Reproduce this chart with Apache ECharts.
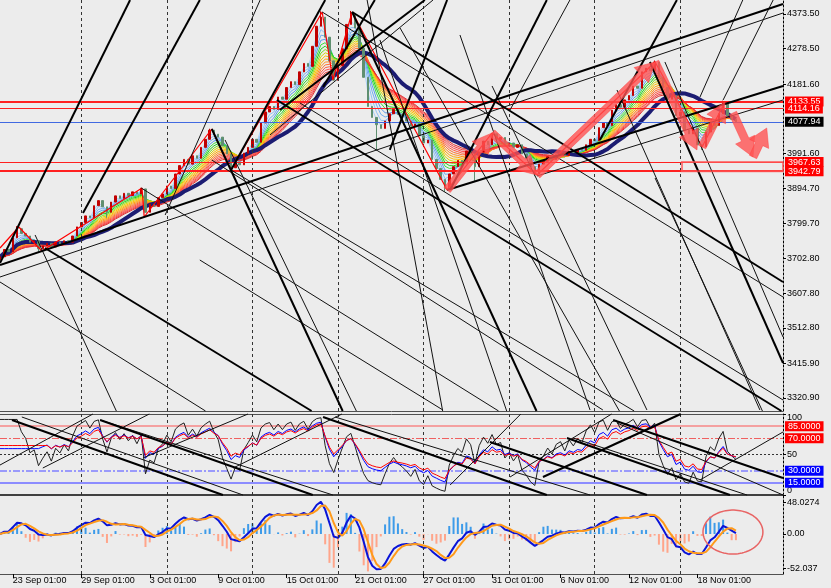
<!DOCTYPE html>
<html><head><meta charset="utf-8">
<script src="https://cdn.jsdelivr.net/npm/echarts@6/dist/echarts.min.js"></script>
<style>html,body{margin:0;padding:0;background:#ececec}#c{width:831px;height:588px}</style>
</head><body><div id="c"></div>
<script>
// ---------- DATA ----------
const priceTicks = [4373.50,4278.50,4181.60,3991.60,3894.70,3799.70,3702.80,3607.80,3512.80,3415.90,3320.90];
const dateTickBars = [3,19,35,51,67,83,99,115,131,147,163];
const dateTickLabels = ['23 Sep 01:00','29 Sep 01:00','3 Oct 01:00','9 Oct 01:00','15 Oct 01:00','21 Oct 01:00','27 Oct 01:00','31 Oct 01:00','6 Nov 01:00','12 Nov 01:00','18 Nov 01:00'];
const gridBars = [19,39,59,79,99,119,139,159];
const firstOpen = 3700;
const closes = [
3708,3728,3722,3760,3785,3772,3765,3748,3752,3730,
3738,3745,3735,3748,3744,3752,3748,3765,3790,3802,
3820,3815,3848,3862,3845,3830,3858,3875,3868,3882,
3876,3886,3880,3894,3830,3852,3846,3870,3880,3902,
3895,3935,3958,3975,3962,3985,3978,4008,4030,4055,
4044,4036,4012,3990,3952,3968,3960,3992,4008,4030,
4022,4075,4105,4120,4112,4146,4140,4172,4188,4180,
4215,4238,4230,4285,4340,4365,4310,4245,4192,4232,
4278,4345,4372,4335,4280,4200,4120,4090,4070,4060,
4080,4100,4112,4098,4090,4080,4066,4072,4040,4020,
4028,3975,3950,3920,3895,3935,3955,3972,3965,3998,
3990,3955,3995,4025,4015,4045,4030,4035,4012,4020,
4008,4015,3990,3978,3955,3935,3962,3970,3982,3975,
3988,3992,3985,3998,3994,4002,4000,4015,4030,4026,
4062,4075,4068,4110,4125,4118,4138,4150,4176,4170,
4215,4225,4218,4242,4200,4172,4140,4150,4095,4105,
4055,4045,4060,4015,4010,4050,4075,4068,4100,4130,
4095,4085,4078];
const highWicks = {4:3792, 33:3897, 49:4059, 75:4381, 82:4382, 153:4246, 169:4136};
const lowWicks = {9:3722, 25:3815, 54:3943, 88:4000, 104:3886, 111:3916, 125:3929, 164:4001};

const redLevels = [4133.55, 4114.16, 3967.63, 3942.79];
const redLevelWidths = [2, 1, 1, 2];
const blueLevel = 4077.94;

const zigzag = [[0,3732.1],[4.4,3789.7],[9.8,3723.9],[33.2,3896.6],[33.7,3817.1],[49.5,4058.3],[54.0,3945.9],[75.3,4379.0],[77.8,4192.6],[82.3,4379.0],[104.5,3891.1],[115.0,4047.3],[125.5,3932.2],[153.1,4242.0],[164.1,4009.0],[169.4,4132.3]];
const arrows = [
 [104.5,3891.1,115.0,4047.3],
 [115.0,4047.3,125.5,3932.2],
 [125.5,3932.2,153.1,4242.0],
 [153.1,4242.0,162.9,4000.8],
 [164.1,4009.0,169.4,4132.3],
 [171.3,4102.2,176.0,3981.6],
 [176.0,3981.6,179.2,4061.0]];
const zoneBox = [[159.4,3967.63,183,3942.79]];

const thickLines = [
 [0,3685.5,183,4400.9],[104.5,3891.1,183,4176.2],[0,3691.0,30.4,4411.9],[19.4,3828.1,46.7,4411.9],
 [54.0,3945.9,76.0,4411.9],[75.5,4173.4,87.6,4411.9],[65.4,4110.4,99.3,4411.9],[82.3,4379.0,125.5,3282.6],
 [82.3,4379.0,183,3638.9],[64.7,4137.8,183,3282.6],[10.5,3732.1,73.2,3282.6],[49.5,4058.3,80.2,3282.6],
 [151.9,4242.0,183,3416.9],[91.1,4000.8,104.5,4411.9],[105.2,3891.1,127.8,4411.9],[140.2,4028.2,158.2,4411.9]];
const thinLines = [
 [0,3652.6,183,4376.3],[125.5,3929.5,183,4137.8],[38.6,3822.6,60.8,4411.9],[33.0,3896.6,116.9,3282.6],
 [0,3638.9,48.4,3282.6],[8.2,3767.8,27.3,3282.6],[52.6,4028.2,83.4,3282.6],[54.0,3945.9,183,3041.4],
 [75.3,4379.0,183,3597.8],[70.1,4129.6,183,3315.5],[155.4,4242.0,183,3488.2],[63.1,4041.9,101.2,4411.9],
 [93.5,4335.2,144.9,3282.6],[107.5,4316.0,137.9,3288.1],[115.0,4176.2,151.2,3288.1],[144.2,4165.2,177.6,3288.1],
 [153.1,3924.0,178.3,3282.6],[85.8,4411.9,103.5,3282.6],[88.8,4302.3,118.5,3282.6],[49.5,3973.3,140.9,3288.1],
 [46.7,3699.2,103.5,3288.1],[119.2,4110.4,133.2,4411.9],[163.6,4146.0,173.6,4411.9],[169.0,4137.8,180.7,4411.9]];

const rsiThick = [[2.8,92.6,52.1,0],[23.4,92.6,73.1,0],[75.5,96.3,127.8,0],[114.5,65.4,151.2,0],[132.5,70.4,170.6,0],[126.9,22.2,159.6,101.2],[143.3,92.6,183,21.0]];
const rsiThin = [[5.1,96.3,56.8,0],[0,37.0,23.4,104.9],[10.0,33.3,39.0,111],[23.4,92.6,77.8,0],[33.4,45.7,59.1,102.5],[54.5,33.3,84.1,111],[105.2,12.3,122.2,102.5],[133.9,70.4,174.6,0],[119.2,22.2,143.3,101.2],[163.6,18.5,183,77.8],[144.2,88.9,183,0],[78.3,96.3,137.9,0]];
const rsiTicks = [0,50,100];
const macdTicks = [48.0274, 0, -52.037];
const macdTickLabels = ['48.0274','0.00','-52.037'];
const ellipseMark = [[171.3, 3, 7.0, 33.3]];

// indicator settings
const ribbonPeriods = [2,3,4,5,6,7,8,9,10,11,12,13,14,15,16,17];
const ribbonColors = ['#a8d0f8','#8cc0f4','#70aef0','#5a9ce8','#40e040','#20d020','#7fdc20','#d8d800','#ffc000','#ffa500','#ff9020','#ff7030','#ff5a3c','#ff4848','#f03c3c','#e03030'];
const navyPeriod = 18;
const rsiPeriods = {black:4, blue:9, red:11};
const macdSet = {fast:4, slow:8, signal:3, histGain:2.5};

// ---------- HELPERS ----------
function ema(arr,n){const k=2/(n+1);let p=arr[0];return arr.map((v,i)=>{p=i===0?v:v*k+p*(1-k);return p;});}
function smaP(arr,n){return arr.map((_,i)=>{const s=Math.max(0,i-n+1);let t=0;for(let j=s;j<=i;j++)t+=arr[j];return t/(i-s+1);});}
function rsi(arr,n){let ag=0,al=0;for(let i=1;i<=n;i++){const d=arr[i]-arr[i-1];ag+=Math.max(d,0)/n;al+=Math.max(-d,0)/n;}
 const seed=al===0?100:100-100/(1+ag/al);
 return arr.map((v,i)=>{if(i<=n)return seed;const d=v-arr[i-1];ag=(ag*(n-1)+Math.max(d,0))/n;al=(al*(n-1)+Math.max(-d,0))/n;return al===0?100:100-100/(1+ag/al);});}
function clipSeg(x1,y1,x2,y2,r){let t0=0,t1=1;const dx=x2-x1,dy=y2-y1;const p=[-dx,dx,-dy,dy],q=[x1-r.x,r.x+r.width-x1,y1-r.y,r.y+r.height-y1];
 for(let k=0;k<4;k++){if(p[k]===0){if(q[k]<0)return null;}else{const t=q[k]/p[k];if(p[k]<0){if(t>t1)return null;if(t>t0)t0=t;}else{if(t<t0)return null;if(t<t1)t1=t;}}}
 return [x1+t0*dx,y1+t0*dy,x1+t1*dx,y1+t1*dy];}
function segRenderer(width,color){return function(params,api){const a=api.coord([api.value(0),api.value(1)]),b=api.coord([api.value(2),api.value(3)]);const s=clipSeg(a[0],a[1],b[0],b[1],params.coordSys);if(!s)return;return {type:'line',shape:{x1:s[0],y1:s[1],x2:s[2],y2:s[3]},style:{stroke:color,lineWidth:width}};};}
function arrowRenderer(params,api){const a=api.coord([api.value(0),api.value(1)]),b=api.coord([api.value(2),api.value(3)]);
 const dx=b[0]-a[0],dy=b[1]-a[1],L=Math.hypot(dx,dy),ux=dx/L,uy=dy/L,nx=-uy,ny=ux;const h=Math.min(19,L*0.55),sw=4,hw=10.5;
 const bx=b[0]-ux*h,by=b[1]-uy*h;
 const pts=[[a[0]+nx*sw,a[1]+ny*sw],[bx+nx*sw,by+ny*sw],[bx+nx*hw,by+ny*hw],[b[0],b[1]],[bx-nx*hw,by-ny*hw],[bx-nx*sw,by-ny*sw],[a[0]-nx*sw,a[1]-ny*sw]];
 return {type:'polygon',shape:{points:pts},style:{fill:'rgba(255,82,82,0.8)',stroke:'rgba(255,60,60,0.9)',lineWidth:0.5}};}
function boxRenderer(params,api){const a=api.coord([api.value(0),api.value(1)]),b=api.coord([api.value(2),api.value(3)]);
 return {type:'rect',shape:{x:a[0],y:a[1],width:b[0]-a[0],height:b[1]-a[1]},style:{fill:'none',stroke:'rgba(255,90,90,0.75)',lineWidth:2}};}
function ellipseRenderer(params,api){const c=api.coord([api.value(0),api.value(1)]);const ex=api.coord([api.value(0)+api.value(2),api.value(1)]);const ey=api.coord([api.value(0),api.value(1)+api.value(3)]);
 const rx=Math.abs(ex[0]-c[0]),ry=Math.abs(ey[1]-c[1]);const pts=[];for(let k=0;k<90;k++){const t=k/90*2*Math.PI;pts.push([c[0]+rx*Math.cos(t),c[1]+ry*Math.sin(t)]);}
 return {type:'polygon',shape:{points:pts},style:{fill:'none',stroke:'#e86464',lineWidth:1.5}};}

// ---------- BUILD ----------
const candleData = closes.map((c,i)=>{const o=i===0?firstOpen:closes[i-1];let h=Math.max(o,c),l=Math.min(o,c);
 if(highWicks[i]!==undefined)h=Math.max(h,highWicks[i]);if(lowWicks[i]!==undefined)l=Math.min(l,lowWicks[i]);return [i,o,c,l,h];});
const FONT = 'Liberation Sans';
const series = [];
ribbonPeriods.forEach((p,k)=>{series.push({type:'line',xAxisIndex:0,yAxisIndex:0,symbol:'none',silent:true,z:2,
 lineStyle:{width:1,color:ribbonColors[k]},data:ema(closes,p).map((v,i)=>[i,v])});});
series.push({type:'line',xAxisIndex:0,yAxisIndex:0,symbol:'none',silent:true,z:3,lineStyle:{width:4,color:'#1c1c72'},
 data:smaP(closes,navyPeriod).map((v,i)=>[i,v])});

const vGrid = gridBars.map(v=>({xAxis:v,lineStyle:{type:[3,3],color:'#333',width:1}}));
const lvlLabel = (bg,txt)=>({show:true,position:'end',distance:2,color:'#fff',backgroundColor:bg,padding:[1,3,0,3],fontSize:9,fontFamily:FONT,lineHeight:9,formatter:txt||((p)=>p.value.toFixed(2))});
const priceMarks = vGrid.concat(
 redLevels.map((v,k)=>({yAxis:v,lineStyle:{type:'solid',color:'#ff2020',width:redLevelWidths[k]},label:lvlLabel('#ff0000')})),
 [{yAxis:blueLevel,lineStyle:{type:'solid',color:'#4169e1',width:1},label:lvlLabel('#000')}]);

series.push({type:'candlestick',xAxisIndex:0,yAxisIndex:0,z:4,barWidth:2,encode:{x:0,y:[1,2,3,4]},data:candleData,
 itemStyle:{color:'#c00000',color0:'#5f8f70',borderColor:'#c00000',borderColor0:'#5f8f70',borderWidth:1},
 markLine:{symbol:['none','none'],silent:true,animation:false,label:{show:false},data:priceMarks}});
series.push({type:'line',xAxisIndex:0,yAxisIndex:0,symbol:'none',silent:true,z:5,lineStyle:{width:1.2,color:'#ff0000'},data:zigzag});
series.push({type:'custom',xAxisIndex:0,yAxisIndex:0,z:6,silent:true,encode:{x:[0,2],y:[1,3]},data:thinLines,renderItem:segRenderer(1,'#111')});
series.push({type:'custom',xAxisIndex:0,yAxisIndex:0,z:6,silent:true,encode:{x:[0,2],y:[1,3]},data:thickLines,renderItem:segRenderer(2,'#000')});
series.push({type:'custom',xAxisIndex:0,yAxisIndex:0,z:7,silent:true,encode:{x:[0,2],y:[1,3]},data:zoneBox,renderItem:boxRenderer});
series.push({type:'custom',xAxisIndex:0,yAxisIndex:0,z:8,silent:true,encode:{x:[0,2],y:[1,3]},data:arrows,renderItem:arrowRenderer});

// RSI panel
const rsiLvl = [
 {yAxis:85,lineStyle:{type:'solid',color:'#f4a0a0',width:2},label:lvlLabel('#ff0000','85.0000')},
 {yAxis:70,lineStyle:{type:[7,2,2,2],color:'#f06060',width:1},label:lvlLabel('#ff0000','70.0000')},
 {yAxis:50,lineStyle:{type:[2,2],color:'#333',width:1},label:{show:false}},
 {yAxis:30,lineStyle:{type:[7,2,2,2],color:'#7f7fff',width:1.5},label:lvlLabel('#0000ff','30.0000')},
 {yAxis:15,lineStyle:{type:'solid',color:'#8c8cff',width:2},label:lvlLabel('#0000ff','15.0000')}];
series.push({type:'line',xAxisIndex:1,yAxisIndex:1,symbol:'none',silent:true,z:5,lineStyle:{width:1,color:'#202020'},data:rsi(closes,rsiPeriods.black).map((v,i)=>[i,v]),
 markLine:{symbol:['none','none'],silent:true,animation:false,label:{show:false},data:vGrid.concat(rsiLvl)}});
series.push({type:'line',xAxisIndex:1,yAxisIndex:1,symbol:'none',silent:true,z:5,lineStyle:{width:1,color:'#0000ff'},data:rsi(closes,rsiPeriods.blue).map((v,i)=>[i,v])});
series.push({type:'line',xAxisIndex:1,yAxisIndex:1,symbol:'none',silent:true,z:5,lineStyle:{width:1,color:'#ff0000'},data:rsi(closes,rsiPeriods.red).map((v,i)=>[i,v])});
series.push({type:'custom',xAxisIndex:1,yAxisIndex:1,z:6,silent:true,encode:{x:[0,2],y:[1,3]},data:rsiThin,renderItem:segRenderer(1,'#111')});
series.push({type:'custom',xAxisIndex:1,yAxisIndex:1,z:6,silent:true,encode:{x:[0,2],y:[1,3]},data:rsiThick,renderItem:segRenderer(2,'#000')});

// MACD panel
const emaF = ema(closes,macdSet.fast), emaS = ema(closes,macdSet.slow);
const macd = emaF.map((v,i)=>v-emaS[i]);
const signal = smaP(macd,macdSet.signal);
const hist = macd.map((v,i)=>(v-signal[i])*macdSet.histGain);
series.push({type:'bar',xAxisIndex:2,yAxisIndex:2,barWidth:2,silent:true,z:3,
 data:hist.map((v,i)=>({value:[i,v],itemStyle:{color:v>=0?'#3d9be9':'#ffa58a'}})),
 markLine:{symbol:['none','none'],silent:true,animation:false,label:{show:false},data:vGrid}});
series.push({type:'line',xAxisIndex:2,yAxisIndex:2,symbol:'none',silent:true,z:4,lineStyle:{width:2,color:'#0a14d8'},data:macd.map((v,i)=>[i,v])});
series.push({type:'line',xAxisIndex:2,yAxisIndex:2,symbol:'none',silent:true,z:5,lineStyle:{width:2,color:'#ff9a1a'},data:signal.map((v,i)=>[i,v])});
series.push({type:'custom',xAxisIndex:2,yAxisIndex:2,z:7,silent:true,encode:{x:0,y:1},data:ellipseMark,renderItem:ellipseRenderer});

const baseX = (g)=>({type:'value',gridIndex:g,min:0,max:183,axisLabel:{show:false},axisTick:{show:false},splitLine:{show:false},axisLine:{show:true,onZero:false,lineStyle:{color:'#505050',width:1}}});
const xAxes = [baseX(0), baseX(1), baseX(2), Object.assign(baseX(1),{position:'top'})];
xAxes[1].axisLine.lineStyle = {color:'#404040',width:2};
xAxes[2].axisTick = {show:true,customValues:dateTickBars,length:4,inside:false,lineStyle:{color:'#000'}};
xAxes[2].axisLabel = {show:true,customValues:dateTickBars,align:'left',margin:2,fontSize:9,fontFamily:FONT,color:'#000',
 formatter:(v)=>dateTickLabels[dateTickBars.indexOf(Math.round(v))]};

const baseY = (g,min,max,ticks,fmt,rich)=>({type:'value',gridIndex:g,position:'right',min:min,max:max,splitLine:{show:false},
 axisLine:{show:true,onZero:false,lineStyle:{color:'#000',type:[2,2],width:1}},
 axisTick:{show:true,customValues:ticks,length:3,inside:false,lineStyle:{color:'#000'}},
 axisLabel:{show:true,customValues:ticks,margin:4,fontSize:9,fontFamily:FONT,color:'#000',formatter:fmt,rich:rich||{}}});
const yAxes = [
 baseY(0,3285.3,4411.9,priceTicks,(v)=>v.toFixed(2)),
 baseY(1,0,100,rsiTicks,(v)=>{const r=Math.round(v);return r===100?'{dn|100}':(r===0?'{up|0}':String(r));},
   {dn:{padding:[8,0,0,0],fontSize:9,fontFamily:FONT,color:'#000'},up:{padding:[0,0,8,0],fontSize:9,fontFamily:FONT,color:'#000'}}),
 baseY(2,-60.6,57.6,macdTicks,(v)=>macdTickLabels[macdTicks.findIndex(t=>Math.abs(t-v)<1e-6)])];

const chart = echarts.init(document.getElementById('c'));
chart.setOption({
 animation:false, backgroundColor:'#ececec',
 textStyle:{fontFamily:FONT},
 grid:[{left:0,top:0,width:783,height:411,outerBoundsMode:'none'},{left:0,top:414,width:783,height:81,outerBoundsMode:'none'},{left:0,top:496,width:783,height:78,outerBoundsMode:'none'}],
 xAxis:xAxes, yAxis:yAxes, series:series});
</script></body></html>
